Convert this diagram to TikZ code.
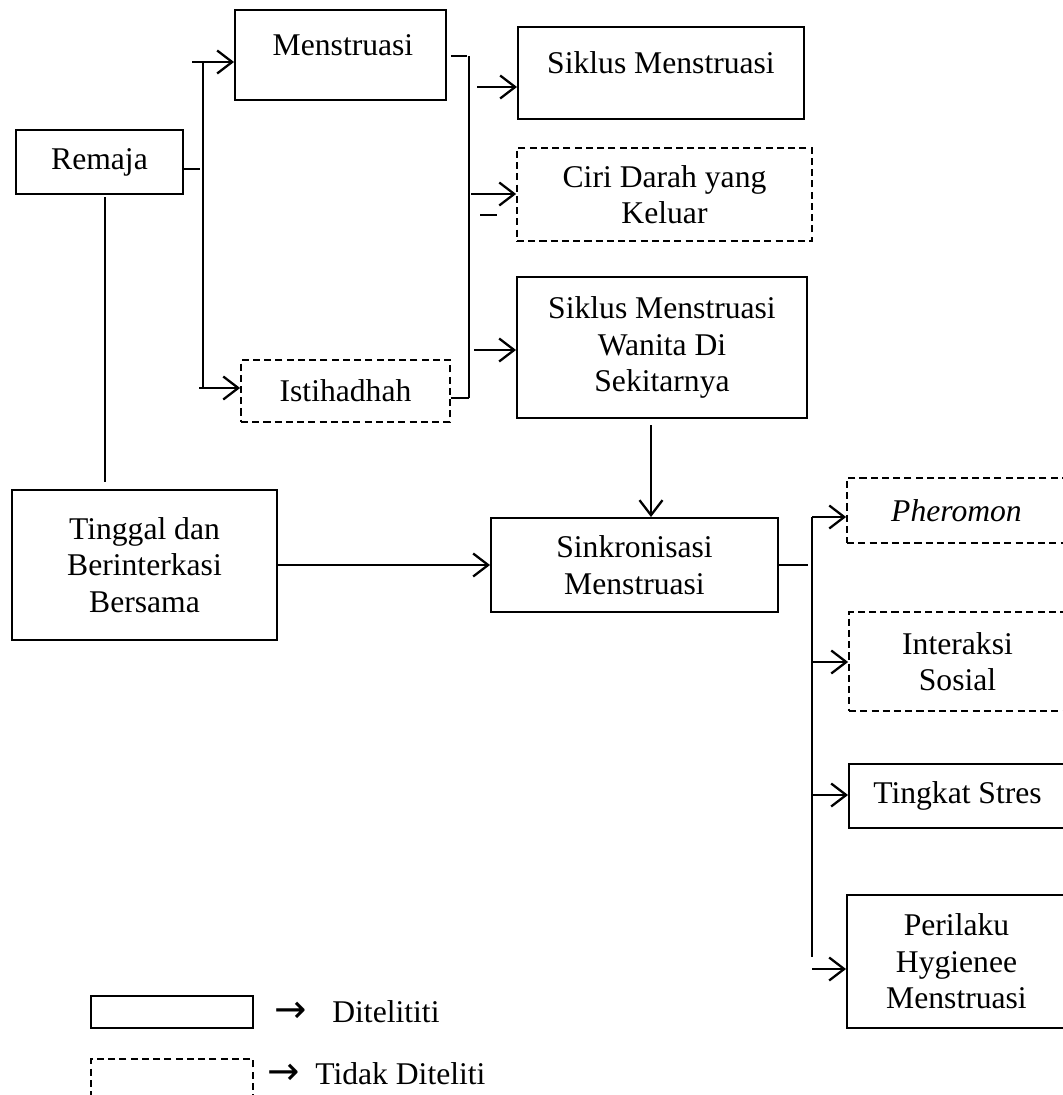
\documentclass[tikz,border=0pt]{standalone}
\usepackage{fontspec}
\setmainfont{Liberation Serif}
\newfontfamily\arrowfont{DejaVu Sans}
\usetikzlibrary{arrows.meta,calc,positioning}
\newcommand{\un}{0.02cm}

\begin{document}
\begin{tikzpicture}[x=0.02cm, y=-0.02cm,
  font=\fontsize{18}{20.8}\selectfont,
  solidbox/.style={draw, line width=1.1pt, align=center, inner sep=0pt},
  dashbox/.style={draw, line width=1pt, dash pattern=on 4pt off 2.4pt, align=center, inner sep=0pt},
  arr/.style={-{Straight Barb[length=0.3cm, width=0.46cm]}, line width=1.3pt},
  link/.style={line width=0.7pt},
  keyarrow/.style={inner sep=0pt, text height=12pt, text depth=0pt, font=\arrowfont\fontsize{22}{24}\selectfont}
]
\useasboundingbox (0,0) rectangle (1062,1095);

% boxes
\node[solidbox, minimum width=167*\un, minimum height=64*\un] (remaja) at (99.5,162) {Remaja};
\node[solidbox, minimum width=211*\un, minimum height=90*\un] (menst) at (340.5,55) {};
\node (menst-txt) at (343,45) {Menstruasi};
\node[dashbox, minimum width=209*\un, minimum height=62*\un] (istihadhah) at (345.5,391) {Istihadhah};
\node[solidbox, minimum width=286*\un, minimum height=92*\un] (siklus) at (661,73) {};
\node (siklus-txt) at (661,63) {Siklus Menstruasi};
\node[dashbox, minimum width=295*\un, minimum height=93*\un] (ciri) at (664.5,194.5) {Ciri Darah yang\\Keluar};
\node[solidbox, minimum width=290*\un, minimum height=141*\un] (wanita) at (662,347.5) {Siklus Menstruasi\\Wanita Di\\Sekitarnya};
\node[solidbox, minimum width=265*\un, minimum height=150*\un] (tinggal) at (144.5,565) {Tinggal dan\\Berinterkasi\\Bersama};
\node[solidbox, minimum width=287*\un, minimum height=94*\un] (sink) at (634.5,565) {Sinkronisasi\\Menstruasi};
\node[dashbox, minimum width=219*\un, minimum height=65*\un] (pheromon) at (956.5,510.5) {\itshape Pheromon};
\node[dashbox, minimum width=217*\un, minimum height=99*\un] (interaksi) at (957.5,661.5) {Interaksi\\Sosial};
\node[solidbox, minimum width=217*\un, minimum height=64*\un] (tingkat) at (957.5,796) {Tingkat Stres};
\node[solidbox, minimum width=219*\un, minimum height=133*\un] (perilaku) at (956.5,961.5) {Perilaku\\Hygienee\\Menstruasi};

% Remaja -> Menstruasi / Istihadhah
\coordinate (busA-top) at (203,62);
\coordinate (busA-bot) at (203,388);
\coordinate (toMenst) at (192,62);
\coordinate (toIsti) at (199,388);
\draw[link] ($(remaja.east)+(0,7)$) -- ++(16,0);
\draw[link] (busA-top) -- (busA-bot);
\draw[arr] (toMenst) -- (toMenst -| menst.west);
\draw[arr] (toIsti) -- (toIsti -| istihadhah.west);

% Menstruasi / Istihadhah -> faktor
\coordinate (busB-top) at (469,56);
\coordinate (busB-bot) at (469,398);
\coordinate (toSiklus) at (477,87);
\coordinate (toCiri) at (471,194);
\coordinate (toWanita) at (474,350);
\coordinate (ciriMark) at (480,215);
\draw[link] ($(menst.east)+(4,1)$) -- ++(16,0);
\draw[link] (istihadhah.east |- busB-bot) -- (busB-bot);
\draw[link] (busB-top) -- (busB-bot);
\draw[arr] (toSiklus) -- (toSiklus -| siklus.west);
\draw[arr] (toCiri) -- (toCiri -| ciri.west);
\draw[arr] (toWanita) -- (toWanita -| wanita.west);
\draw[link, line width=0.9pt] (ciriMark) -- ++(17,0);

% ke Sinkronisasi
\coordinate (toSink) at (651,425);
\coordinate (remDown) at (105,197);
\draw[arr] (toSink) -- (toSink |- sink.north);
\draw[link] (remDown) -- ($(remDown |- tinggal.north)+(0,-7)$);
\draw[arr] (tinggal.east) -- (sink.west);

% Sinkronisasi -> penyebab
\coordinate (busC-top) at (812,517);
\coordinate (busC-bot) at (812,957);
\coordinate (toPher) at (812,517);
\coordinate (toInter) at (812,662);
\coordinate (toStres) at (812,795);
\coordinate (toPeri) at (812,969);
\draw[link] (sink.east) -- ++(29,0);
\draw[link, line width=0.9pt] (busC-top) -- (busC-bot);
\draw[arr] (toPher) -- (toPher -| pheromon.west);
\draw[arr] (toInter) -- (toInter -| interaksi.west);
\draw[arr] (toStres) -- (toStres -| tingkat.west);
\draw[arr] (toPeri) -- (toPeri -| perilaku.west);

% keterangan
\node[solidbox, minimum width=162*\un, minimum height=32*\un] (keySolid) at (172,1012) {};
\node[dashbox, minimum width=162*\un, minimum height=60*\un] (keyDash) at (172,1089) {};
\node[keyarrow] (keySolid-arr) at (291,1012) {→};
\node[inner sep=0pt, anchor=west] (keySolid-txt) at (332,1012) {Ditelititi};
\node[keyarrow] (keyDash-arr) at (284,1074) {→};
\node[inner sep=0pt, anchor=west] (keyDash-txt) at (315,1074) {Tidak Diteliti};
\end{tikzpicture}
\end{document}
